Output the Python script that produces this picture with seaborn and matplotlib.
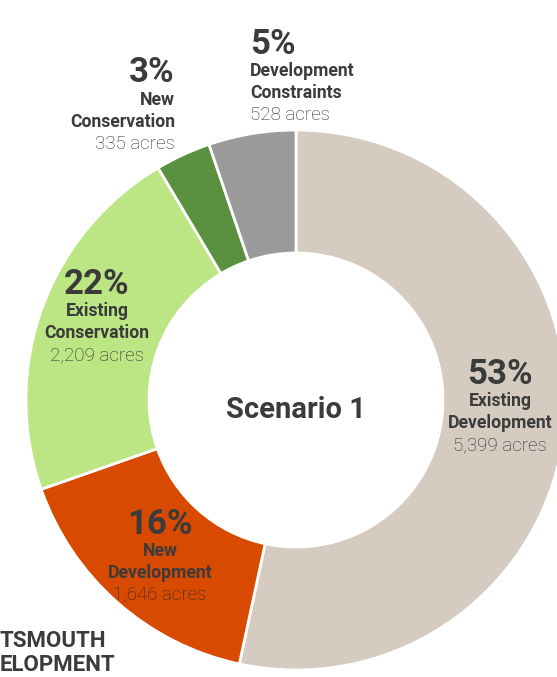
import matplotlib
matplotlib.use("Agg")
import seaborn as sns
from matplotlib import pyplot as plt

# ===== data =====
categories = ["Existing\nDevelopment", "New\nDevelopment", "Existing\nConservation",
              "New\nConservation", "Development\nConstraints"]
acres = [5399, 1646, 2209, 335, 528]
percents = ["53%", "16%", "22%", "3%", "5%"]
acre_labels = ["5,399 acres", "1,646 acres", "2,209 acres", "335 acres", "528 acres"]
colors = ["#d5cbc1", "#d84a00", "#bce584", "#5a9140", "#9a9a9a"]
center_title = "Scenario 1"

W, H = 557, 677
sns.set_theme(style="white")
plt.rcParams['font.family'] = ['Roboto', 'DejaVu Sans']

fig = plt.figure(figsize=(W / 100, H / 100), dpi=100)
ax = fig.add_axes([0, 0, 1, 1])

cx, cy = 296, H - 400
r_out, r_in = 270, 147
ax.pie(acres, colors=colors, startangle=90, counterclock=False,
       center=(cx, cy), radius=r_out,
       wedgeprops=dict(width=r_out - r_in, edgecolor="white", linewidth=2))
ax.set_xlim(0, W)
ax.set_ylim(0, H)
ax.set_aspect("equal")
ax.axis("off")

dark = "#3b3b3b"


def label_block(x, y_pct, idx, ha):
    # percent, bold name (two lines), acres
    ax.text(x, H - y_pct, percents[idx], ha=ha, va="center",
            fontsize=25, fontweight="bold", color=dark)
    top, bottom = categories[idx].split("\n")
    ax.text(x, H - (y_pct + 27), top, ha=ha, va="center",
            fontsize=12.7, fontweight="bold", color=dark)
    ax.text(x, H - (y_pct + 49), bottom, ha=ha, va="center",
            fontsize=12.7, fontweight="bold", color=dark)
    ax.text(x, H - (y_pct + 71), acre_labels[idx], ha=ha, va="center",
            fontsize=13.5, fontweight="light", color="#2b2b2b")


label_block(500, 374, 0, "center")
label_block(160, 524, 1, "center")
label_block(97, 284, 2, "center")
label_block(175, 73, 3, "right")
label_block(250, 44, 4, "left")

ax.text(cx, H - 410, center_title, ha="center", va="center",
        fontsize=21, fontweight="bold", color=dark)

# heading at bottom left, only its visible part
ax.text(0, H - 641, "TSMOUTH", ha="left", va="center",
        fontsize=16, fontweight="bold", color=dark)
ax.text(0, H - 665, "ELOPMENT", ha="left", va="center",
        fontsize=16, fontweight="bold", color=dark)

fig.savefig("out.png", dpi=100)
